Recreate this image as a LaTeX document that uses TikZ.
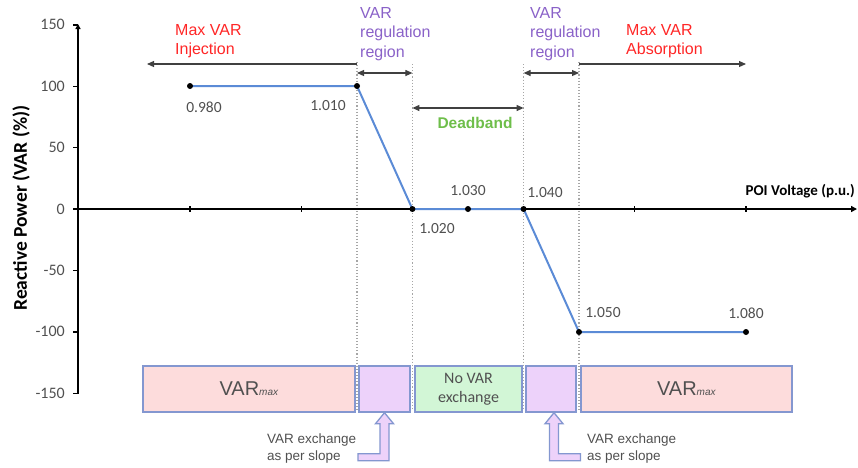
\documentclass[tikz,border=0pt]{standalone}
\usepackage{fontspec}
\setmainfont{Liberation Sans}
\newfontfamily\calfont{Carlito}
\usetikzlibrary{arrows.meta,calc}
\definecolor{redtxt}{HTML}{FF2626}
\definecolor{purtxt}{HTML}{8A62C8}
\definecolor{grntxt}{HTML}{6EBE4A}
\definecolor{graytxt}{HTML}{505050}
\definecolor{curveblue}{HTML}{5B8BD6}
\definecolor{boxedge}{HTML}{8497D0}
\definecolor{pinkfill}{HTML}{FDDCDC}
\definecolor{purfill}{HTML}{EDD2FA}
\definecolor{grnfill}{HTML}{D2F6D6}
\tikzset{
  axisline/.style={line width=2.2pt, black},
  ticklab/.style={font=\calfont\fontsize{16}{19}\selectfont, text=graytxt, inner sep=0pt},
  ptlab/.style={font=\calfont\fontsize{15.5}{19}\selectfont, text=graytxt, inner sep=0pt},
  dot/.style={circle, fill=black, inner sep=0pt, minimum size=6pt},
  curve/.style={line width=2pt, curveblue},
  guide/.style={gray!70, dotted, line width=1.1pt},
  rangearrow/.style={line width=1.1pt, black!75, -{Triangle[length=7pt,width=6pt]}},
  twoarrow/.style={line width=1.1pt, black!75, {Triangle[length=7pt,width=6pt]}-{Triangle[length=7pt,width=6pt]}},
  redlab/.style={font=\fontsize{16}{19}\selectfont, text=redtxt, align=left, inner sep=0pt, anchor=north west},
  purlab/.style={font=\fontsize{16}{19.5}\selectfont, text=purtxt, align=left, inner sep=0pt, anchor=north west},
  notelab/.style={font=\fontsize{13.5}{17}\selectfont, text=graytxt, align=left, inner sep=0pt, anchor=north west},
  regbox/.style={draw=boxedge, line width=1.4pt, minimum height=46pt, inner sep=0pt, text=graytxt},
  blockarrow/.style={draw=boxedge, fill=purfill, line width=1.3pt, line join=miter},
}
\begin{document}
\begin{tikzpicture}[x=1pt,y=-1pt]
\useasboundingbox (0,0) rectangle (858,467);

% dotted guide lines
\coordinate (g1t) at (357,62);  \coordinate (g1b) at (357,410);
\coordinate (g2t) at (412.4,64);\coordinate (g2b) at (412.4,410);
\coordinate (g3t) at (523.6,64);\coordinate (g3b) at (523.6,410);
\coordinate (g4t) at (579,62);  \coordinate (g4b) at (579,410);
\draw[guide] (g1t) -- (g1b);
\draw[guide] (g2t) -- (g2b);
\draw[guide] (g3t) -- (g3b);
\draw[guide] (g4t) -- (g4b);

% axes
\coordinate (yb) at (78,394);
\coordinate (yt) at (78,24);
\coordinate (xl) at (75,209);
\coordinate (xr) at (857,209);
\draw[axisline, -{Triangle[length=5pt,width=5pt]}] (yb) -- (yt);
\draw[axisline, -{Triangle[length=6pt,width=6pt]}] (xl) -- (xr);

% y ticks and labels
\foreach \v/\n in {150/a,100/b,50/c,0/d,-50/e,-100/f,-150/g}{
  \coordinate (yt\n) at (78,{209-1.228*\v});
  \draw[line width=1.4pt] (yt\n) -- ++(-5,0);
  \node[ticklab, anchor=east] (yl\n) at ($(yt\n)+(-13,0)$) {\v};
}
% x ticks
\foreach \xx/\n in {190/a,301.2/b,634.8/c,746/d}{
  \coordinate (xt\n) at (\xx,209);
  \draw[line width=1.2pt] ($(xt\n)+(0,-3)$) -- ($(xt\n)+(0,3)$);
}

% axis titles
\node[font=\calfont\bfseries\fontsize{15}{18}\selectfont, anchor=east, inner sep=0pt] (xtitle) at (855,191) {POI Voltage (p.u.)};
\node[font=\calfont\bfseries\fontsize{19.5}{22}\selectfont, rotate=90, inner sep=0pt] (ytitle) at (21,208) {Reactive Power (VAR (\%))};

% characteristic curve
\coordinate (p980) at (190,86);
\coordinate (p1010) at (357,86);
\coordinate (p1020) at (412.4,209);
\coordinate (p1030) at (468,209);
\coordinate (p1040) at (523.6,209);
\coordinate (p1050) at (579,332);
\coordinate (p1080) at (746,332);
\draw[curve] (p980) -- (p1010) -- (p1020) -- (p1030) -- (p1040) -- (p1050) -- (p1080);
\foreach \p in {p980,p1010,p1020,p1030,p1040,p1050,p1080}{
  \node[dot] (d\p) at (\p) {};
}
% point labels
\node[ptlab] (l980) at (204,107) {0.980};
\node[ptlab] (l1010) at (328,106) {1.010};
\node[ptlab] (l1020) at (437,229) {1.020};
\node[ptlab] (l1030) at (468,191) {1.030};
\node[ptlab] (l1040) at (545,193) {1.040};
\node[ptlab] (l1050) at (603,313) {1.050};
\node[ptlab] (l1080) at (746,313) {1.080};

% region arrows
\coordinate (injS) at (357,64);  \coordinate (injE) at (147,64);
\coordinate (absS) at (579,64);  \coordinate (absE) at (746,64);
\draw[rangearrow] (injS) -- (injE);
\draw[rangearrow] (absS) -- (absE);
\coordinate (r1a) at (357,73);   \coordinate (r1b) at (412.4,73);
\coordinate (r2a) at (523.6,73); \coordinate (r2b) at (579,73);
\coordinate (dba) at (412.4,108);\coordinate (dbb) at (523.6,108);
\draw[twoarrow] (r1a) -- (r1b);
\draw[twoarrow] (r2a) -- (r2b);
\draw[twoarrow] (dba) -- (dbb);

% region labels
\node[redlab] (injlab) at (175,24) {Max VAR\\Injection};
\node[redlab] (abslab) at (626,24) {Max VAR\\Absorption};
\node[purlab] (reg1lab) at (360,7) {VAR\\regulation\\region};
\node[purlab] (reg2lab) at (530,7) {VAR\\regulation\\region};
\node[font=\bfseries\fontsize{15.5}{18}\selectfont, text=grntxt, inner sep=0pt] (dblab) at (475,123) {Deadband};

% bottom boxes
\node[regbox, fill=pinkfill, minimum width=212pt] (bmaxl) at (249,389)
  {\fontsize{20}{22}\selectfont VAR\textit{\fontsize{10}{12}\selectfont max}};
\node[regbox, fill=purfill, minimum width=51pt] (bslope1) at (384.5,389) {};
\node[regbox, fill=grnfill, minimum width=107pt, align=center,
  font=\calfont\fontsize{16}{19}\selectfont] (bdead) at (468.5,389) {No VAR\\exchange};
\node[regbox, fill=purfill, minimum width=50pt] (bslope2) at (551,389) {};
\node[regbox, fill=pinkfill, minimum width=211pt] (bmaxr) at (686.5,389)
  {\fontsize{20}{22}\selectfont VAR\textit{\fontsize{10}{12}\selectfont max}};

% L-shaped block arrows
\draw[blockarrow] (bslope1.south) -- ++(9,11) -- ++(-4.5,0) -- ++(0,37) -- ++(-31,0)
  -- ++(0,-7) -- ++(22,0) -- ++(0,-30) -- ++(-4.5,0) -- cycle;
\draw[blockarrow] ($(bslope2.south)+(3,0)$) -- ++(9,11) -- ++(-4.5,0) -- ++(0,30) -- ++(22,0)
  -- ++(0,7) -- ++(-31,0) -- ++(0,-37) -- ++(-4.5,0) -- cycle;

\node[notelab] (note1) at (267,434) {VAR exchange\\as per slope};
\node[notelab] (note2) at (587,434) {VAR exchange\\as per slope};
\end{tikzpicture}
\end{document}
